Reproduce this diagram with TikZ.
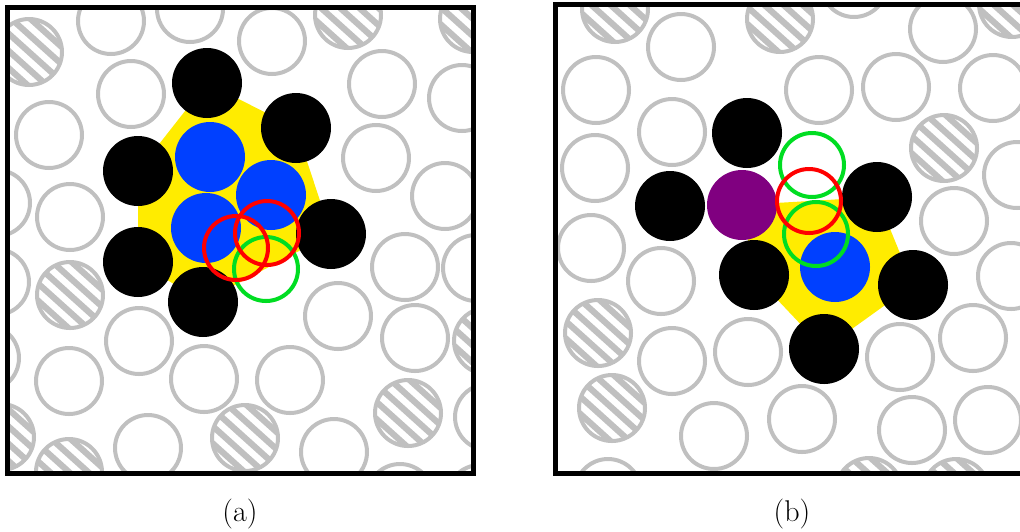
\documentclass[tikz,border=0pt]{standalone}
\usepackage{fontspec}
\definecolor{grain}{RGB}{192,192,192}
\definecolor{hexyellow}{RGB}{255,236,0}
\definecolor{coreblue}{RGB}{0,64,255}
\definecolor{seedpurple}{RGB}{128,0,128}
\definecolor{ringgreen}{RGB}{0,221,34}
\definecolor{ringred}{RGB}{255,0,0}
\tikzset{
  free/.style={draw=grain, line width=2pt},
  stripe/.style={draw=grain, line width=3.1pt},
  shell/.style={fill=black},
  core/.style={fill=coreblue},
  seed/.style={fill=seedpurple},
  oldpos/.style={draw=ringgreen, line width=2pt},
  newpos/.style={draw=ringred, line width=2pt},
  frame/.style={draw=black, line width=2.5pt},
  caption/.style={font=\fontsize{15}{18}\selectfont}
}
\newcommand{\hatchdisk}[2]{%
  \begin{scope}[shift={(#1,#2)}]
    \clip (0,0) circle (16.5pt);
    \foreach \k in {-3,...,3}
      \draw[stripe, rotate=-42] (-20pt,\k*6.4pt) -- (20pt,\k*6.4pt);
  \end{scope}
  \draw[free] (#1,#2) circle (16.5pt);}
\begin{document}
\begin{tikzpicture}[x=0.5pt, y=-0.5pt]
  \useasboundingbox (0,0) rectangle (1020,531);
  % panel (a)
  \begin{scope}
    \clip (7,7) rectangle (473,473);
    \fill[hexyellow] (207,83) -- (296,128) -- (331,234) -- (203,302) -- (138,262) -- (138,171) -- cycle;
    \foreach \x/\y in {111/21, 190/9, 272/41, 131/94, 49/135, -3/203, 70/217, 382/84, 462/98,
      376/158, 445/196, 405/267, 476/268, 338/316, 415/338, 290/380, 488/417, 334/452, 400/497,
      480/498, -4/282, -14/358, 139/341, 69/381, 204/379, 148/448}
      \draw[free] (\x,\y) circle (16.5pt);
    \foreach \x/\y in {29/52, 348/15, 473/19, 70/295, 487/341, 408/413, 245/438, 1/437, 69/472}
      \hatchdisk{\x}{\y};
    \foreach \x/\y in {207/83, 296/128, 138/171, 331/234, 138/262, 203/302}
      \fill[shell] (\x,\y) circle (17.5pt);
    \foreach \x/\y in {210/157, 271/195, 206/228}
      \fill[core] (\x,\y) circle (17.5pt);
    \draw[oldpos] (266,269) circle (16pt);
    \draw[newpos] (236,248) circle (16pt);
    \draw[newpos] (267,233) circle (16pt);
  \end{scope}
  \draw[frame] (7,7) rectangle (473,473);
  \node[caption] (capa) at (240,514) {(a)};
  % panel (b)
  \begin{scope}
    \clip (555,4) rectangle (1030,473);
    \fill[hexyellow] (742,205) -- (877,197) -- (913,285) -- (824,349) -- (754,275) -- cycle;
    \foreach \x/\y in {681/47, 596/90, 672/132, 595/168, 591/248, 819/90, 854/-16, 943/29, 896/87,
      993/88, 1017/175, 954/221, 1011/276, 973/338, 900/357, 748/352, 802/419, 912/430, 988/420,
      661/281, 672/361, 714/436, 608/492}
      \draw[free] (\x,\y) circle (16.5pt);
    \foreach \x/\y in {615/9, 780/19, 1012/4, 944/148, 598/333, 612/408, 869/491, 956/492}
      \hatchdisk{\x}{\y};
    \foreach \x/\y in {747/133, 670/206, 877/197, 913/285, 754/275, 824/349}
      \fill[shell] (\x,\y) circle (17.5pt);
    \fill[seed] (742,205) circle (17.5pt);
    \fill[core] (835,267) circle (17.5pt);
    \draw[oldpos] (812,165) circle (16pt);
    \draw[oldpos] (816,234) circle (16pt);
    \draw[newpos] (809,201) circle (16pt);
  \end{scope}
  \draw[frame] (555,4) rectangle (1030,473);
  \node[caption] (capb) at (792,514) {(b)};
\end{tikzpicture}
\end{document}
